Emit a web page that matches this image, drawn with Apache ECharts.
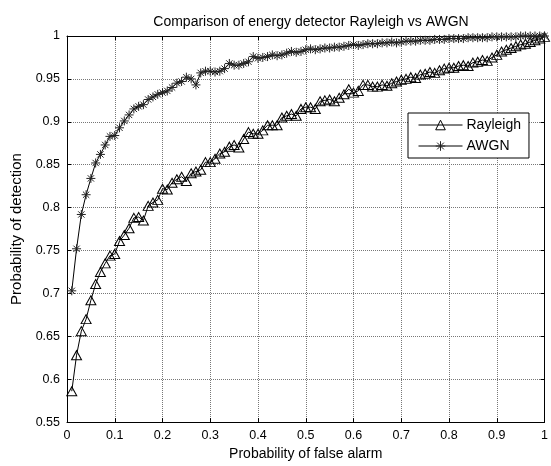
<!DOCTYPE html>
<html>
<head>
<meta charset="utf-8">
<script src="https://cdn.jsdelivr.net/npm/echarts@6/dist/echarts.min.js"></script>
<style>html,body{margin:0;padding:0;background:#fff;}#c{width:551px;height:466px;}</style>
</head>
<body>
<div id="c"></div>
<script>
// Probability of false alarm: 0.01 .. 1.00
var pfa = [];
for (var k = 1; k <= 100; k++) pfa.push(+(k / 100).toFixed(2));

var rayleigh = [
  0.586,0.628,0.656,0.670,0.692,0.711,0.725,0.735,0.744,0.746,
  0.761,0.768,0.776,0.788,0.789,0.785,0.802,0.806,0.809,0.822,
  0.821,0.829,0.833,0.836,0.831,0.840,0.842,0.844,0.853,0.853,
  0.857,0.863,0.865,0.871,0.873,0.870,0.880,0.888,0.886,0.886,
  0.890,0.896,0.896,0.896,0.905,0.907,0.909,0.907,0.915,0.917,
  0.917,0.915,0.924,0.925,0.926,0.924,0.928,0.932,0.938,0.934,
  0.936,0.943,0.943,0.941,0.941,0.943,0.942,0.945,0.947,0.949,
  0.950,0.952,0.951,0.955,0.956,0.958,0.957,0.960,0.962,0.963,
  0.963,0.965,0.966,0.965,0.969,0.970,0.972,0.971,0.975,0.978,
  0.982,0.984,0.986,0.988,0.990,0.991,0.993,0.995,0.997,0.999
];

var awgn = [
  0.703,0.752,0.792,0.815,0.834,0.852,0.862,0.873,0.883,0.884,
  0.893,0.901,0.908,0.915,0.918,0.920,0.926,0.929,0.932,0.934,
  0.936,0.940,0.945,0.947,0.952,0.950,0.943,0.957,0.959,0.959,
  0.958,0.959,0.962,0.968,0.966,0.966,0.968,0.970,0.976,0.974,
  0.975,0.976,0.978,0.977,0.978,0.980,0.982,0.981,0.982,0.984,
  0.985,0.984,0.985,0.986,0.986,0.987,0.987,0.988,0.989,0.990,
  0.989,0.990,0.991,0.991,0.991,0.992,0.992,0.993,0.992,0.993,
  0.994,0.994,0.994,0.995,0.995,0.995,0.996,0.996,0.996,0.997,
  0.997,0.997,0.997,0.998,0.998,0.998,0.998,0.998,0.999,0.999,
  0.999,0.999,0.999,0.999,1.000,1.000,1.000,1.000,1.000,1.000
];

var seriesNames = ['Rayleigh', 'AWGN'];
var titleText = 'Comparison of energy detector Rayleigh vs AWGN';
var xName = 'Probability of false alarm';
var yName = 'Probability of detection';

function pairs(ys) { return pfa.map(function (x, i) { return [x, ys[i]]; }); }

var FONT = 'Liberation Sans, Arial, sans-serif';
var chart = echarts.init(document.getElementById('c'), null, {renderer: 'canvas'});
var gridLine = {show: true, lineStyle: {color: '#777', type: 'dotted', width: 1}};
var tickIn = {show: true, inside: true, length: 4, lineStyle: {color: '#000'}};
chart.setOption({
  animation: false,
  backgroundColor: '#fff',
  title: {
    text: titleText, left: 306, textAlign: 'center', top: 10,
    textStyle: {fontFamily: FONT, fontSize: 14, fontWeight: 'normal', color: '#000'}
  },
  legend: {
    data: seriesNames, orient: 'vertical', left: 408, top: 113,
    itemWidth: 44, itemHeight: 12, itemGap: 7,
    padding: [5, 8, 5, 10],
    backgroundColor: '#fff', borderColor: '#000', borderWidth: 1,
    lineStyle: {width: 1},
    itemStyle: {borderWidth: 1},
    textStyle: {fontFamily: FONT, fontSize: 14, color: '#000', padding: [0, 0, 0, -1]}
  },
  grid: {left: 67, right: 5, top: 36, bottom: 39, containLabel: false},
  xAxis: [{
    type: 'value', min: 0, max: 1, interval: 0.1,
    name: xName, nameLocation: 'middle', nameGap: 24,
    nameTextStyle: {fontFamily: FONT, fontSize: 14, color: '#000'},
    axisLine: {show: true, onZero: false, lineStyle: {color: '#000'}},
    axisTick: tickIn, splitLine: gridLine,
    axisLabel: {fontFamily: FONT, fontSize: 12.5, color: '#000', margin: 7}
  }, {
    type: 'value', position: 'top', min: 0, max: 1, interval: 0.1,
    axisLine: {show: true, onZero: false, lineStyle: {color: '#000'}},
    axisTick: tickIn, splitLine: {show: false}, axisLabel: {show: false}
  }],
  yAxis: [{
    type: 'value', min: 0.55, max: 1, interval: 0.05,
    name: yName, nameLocation: 'middle', nameGap: 40,
    nameTextStyle: {fontFamily: FONT, fontSize: 15, color: '#000'},
    axisLine: {show: true, onZero: false, lineStyle: {color: '#000'}},
    axisTick: tickIn, splitLine: gridLine,
    axisLabel: {fontFamily: FONT, fontSize: 12.5, color: '#000', margin: 7}
  }, {
    type: 'value', position: 'right', min: 0.55, max: 1, interval: 0.05,
    axisLine: {show: true, onZero: false, lineStyle: {color: '#000'}},
    axisTick: tickIn, splitLine: {show: false}, axisLabel: {show: false}
  }],
  series: [{
    name: seriesNames[0], type: 'line', data: pairs(rayleigh),
    symbol: 'triangle', symbolSize: [10, 9], showAllSymbol: true,
    lineStyle: {color: '#000', width: 1},
    itemStyle: {color: 'rgba(255,255,255,0)', borderColor: '#000', borderWidth: 1}
  }, {
    name: seriesNames[1], type: 'line', data: pairs(awgn),
    symbol: 'path://M5,0L5,10M0,5L10,5M1.5,1.5L8.5,8.5M1.5,8.5L8.5,1.5', symbolSize: 9, showAllSymbol: true,
    lineStyle: {color: '#000', width: 1},
    itemStyle: {color: 'rgba(255,255,255,0)', borderColor: '#222', borderWidth: 1}
  }]
});
</script>
</body>
</html>
